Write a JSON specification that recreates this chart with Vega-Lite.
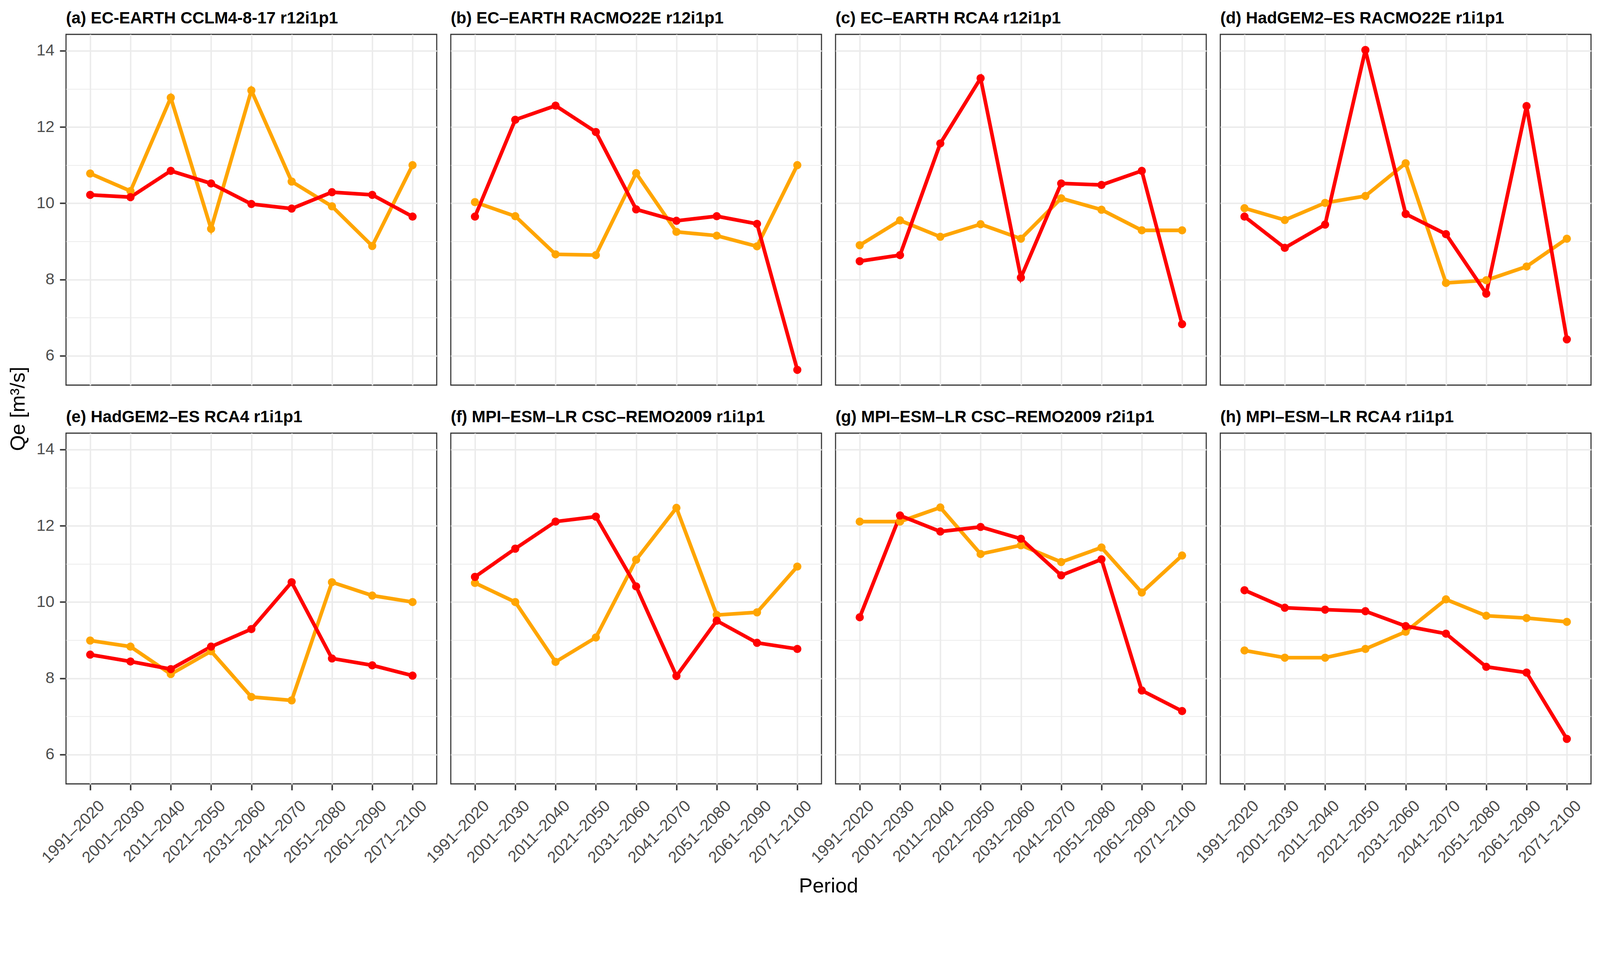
{
  "$schema": "https://vega.github.io/schema/vega-lite/v6.json",
  "background": "white",
  "padding": {"left": 20, "top": 24, "right": 23, "bottom": 5},
  "title": {"text": "Qe [m³/s]", "orient": "left", "anchor": "middle", "fontSize": 52.5, "fontWeight": "normal", "color": "black", "font": "Liberation Sans", "offset": 19, "dx": 113},
  "datasets": {
    "qe": [
      {"model": "(a) EC-EARTH CCLM4-8-17 r12i1p1", "period": "1991–2020", "scenario": "RCP4.5", "qe": 10.78},
      {"model": "(a) EC-EARTH CCLM4-8-17 r12i1p1", "period": "2001–2030", "scenario": "RCP4.5", "qe": 10.32},
      {"model": "(a) EC-EARTH CCLM4-8-17 r12i1p1", "period": "2011–2040", "scenario": "RCP4.5", "qe": 12.77},
      {"model": "(a) EC-EARTH CCLM4-8-17 r12i1p1", "period": "2021–2050", "scenario": "RCP4.5", "qe": 9.33},
      {"model": "(a) EC-EARTH CCLM4-8-17 r12i1p1", "period": "2031–2060", "scenario": "RCP4.5", "qe": 12.96},
      {"model": "(a) EC-EARTH CCLM4-8-17 r12i1p1", "period": "2041–2070", "scenario": "RCP4.5", "qe": 10.57},
      {"model": "(a) EC-EARTH CCLM4-8-17 r12i1p1", "period": "2051–2080", "scenario": "RCP4.5", "qe": 9.92},
      {"model": "(a) EC-EARTH CCLM4-8-17 r12i1p1", "period": "2061–2090", "scenario": "RCP4.5", "qe": 8.88},
      {"model": "(a) EC-EARTH CCLM4-8-17 r12i1p1", "period": "2071–2100", "scenario": "RCP4.5", "qe": 11.0},
      {"model": "(b) EC–EARTH RACMO22E r12i1p1", "period": "1991–2020", "scenario": "RCP4.5", "qe": 10.03},
      {"model": "(b) EC–EARTH RACMO22E r12i1p1", "period": "2001–2030", "scenario": "RCP4.5", "qe": 9.66},
      {"model": "(b) EC–EARTH RACMO22E r12i1p1", "period": "2011–2040", "scenario": "RCP4.5", "qe": 8.66},
      {"model": "(b) EC–EARTH RACMO22E r12i1p1", "period": "2021–2050", "scenario": "RCP4.5", "qe": 8.64},
      {"model": "(b) EC–EARTH RACMO22E r12i1p1", "period": "2031–2060", "scenario": "RCP4.5", "qe": 10.79},
      {"model": "(b) EC–EARTH RACMO22E r12i1p1", "period": "2041–2070", "scenario": "RCP4.5", "qe": 9.25},
      {"model": "(b) EC–EARTH RACMO22E r12i1p1", "period": "2051–2080", "scenario": "RCP4.5", "qe": 9.15},
      {"model": "(b) EC–EARTH RACMO22E r12i1p1", "period": "2061–2090", "scenario": "RCP4.5", "qe": 8.87},
      {"model": "(b) EC–EARTH RACMO22E r12i1p1", "period": "2071–2100", "scenario": "RCP4.5", "qe": 11.0},
      {"model": "(c) EC–EARTH RCA4 r12i1p1", "period": "1991–2020", "scenario": "RCP4.5", "qe": 8.9},
      {"model": "(c) EC–EARTH RCA4 r12i1p1", "period": "2001–2030", "scenario": "RCP4.5", "qe": 9.55},
      {"model": "(c) EC–EARTH RCA4 r12i1p1", "period": "2011–2040", "scenario": "RCP4.5", "qe": 9.12},
      {"model": "(c) EC–EARTH RCA4 r12i1p1", "period": "2021–2050", "scenario": "RCP4.5", "qe": 9.45},
      {"model": "(c) EC–EARTH RCA4 r12i1p1", "period": "2031–2060", "scenario": "RCP4.5", "qe": 9.07},
      {"model": "(c) EC–EARTH RCA4 r12i1p1", "period": "2041–2070", "scenario": "RCP4.5", "qe": 10.13},
      {"model": "(c) EC–EARTH RCA4 r12i1p1", "period": "2051–2080", "scenario": "RCP4.5", "qe": 9.83},
      {"model": "(c) EC–EARTH RCA4 r12i1p1", "period": "2061–2090", "scenario": "RCP4.5", "qe": 9.29},
      {"model": "(c) EC–EARTH RCA4 r12i1p1", "period": "2071–2100", "scenario": "RCP4.5", "qe": 9.29},
      {"model": "(d) HadGEM2–ES RACMO22E r1i1p1", "period": "1991–2020", "scenario": "RCP4.5", "qe": 9.87},
      {"model": "(d) HadGEM2–ES RACMO22E r1i1p1", "period": "2001–2030", "scenario": "RCP4.5", "qe": 9.56},
      {"model": "(d) HadGEM2–ES RACMO22E r1i1p1", "period": "2011–2040", "scenario": "RCP4.5", "qe": 10.01},
      {"model": "(d) HadGEM2–ES RACMO22E r1i1p1", "period": "2021–2050", "scenario": "RCP4.5", "qe": 10.19},
      {"model": "(d) HadGEM2–ES RACMO22E r1i1p1", "period": "2031–2060", "scenario": "RCP4.5", "qe": 11.05},
      {"model": "(d) HadGEM2–ES RACMO22E r1i1p1", "period": "2041–2070", "scenario": "RCP4.5", "qe": 7.91},
      {"model": "(d) HadGEM2–ES RACMO22E r1i1p1", "period": "2051–2080", "scenario": "RCP4.5", "qe": 7.98},
      {"model": "(d) HadGEM2–ES RACMO22E r1i1p1", "period": "2061–2090", "scenario": "RCP4.5", "qe": 8.34},
      {"model": "(d) HadGEM2–ES RACMO22E r1i1p1", "period": "2071–2100", "scenario": "RCP4.5", "qe": 9.07},
      {"model": "(e) HadGEM2–ES RCA4 r1i1p1", "period": "1991–2020", "scenario": "RCP4.5", "qe": 8.99},
      {"model": "(e) HadGEM2–ES RCA4 r1i1p1", "period": "2001–2030", "scenario": "RCP4.5", "qe": 8.83},
      {"model": "(e) HadGEM2–ES RCA4 r1i1p1", "period": "2011–2040", "scenario": "RCP4.5", "qe": 8.11},
      {"model": "(e) HadGEM2–ES RCA4 r1i1p1", "period": "2021–2050", "scenario": "RCP4.5", "qe": 8.71},
      {"model": "(e) HadGEM2–ES RCA4 r1i1p1", "period": "2031–2060", "scenario": "RCP4.5", "qe": 7.51},
      {"model": "(e) HadGEM2–ES RCA4 r1i1p1", "period": "2041–2070", "scenario": "RCP4.5", "qe": 7.42},
      {"model": "(e) HadGEM2–ES RCA4 r1i1p1", "period": "2051–2080", "scenario": "RCP4.5", "qe": 10.52},
      {"model": "(e) HadGEM2–ES RCA4 r1i1p1", "period": "2061–2090", "scenario": "RCP4.5", "qe": 10.17},
      {"model": "(e) HadGEM2–ES RCA4 r1i1p1", "period": "2071–2100", "scenario": "RCP4.5", "qe": 10.0},
      {"model": "(f) MPI–ESM–LR CSC–REMO2009 r1i1p1", "period": "1991–2020", "scenario": "RCP4.5", "qe": 10.5},
      {"model": "(f) MPI–ESM–LR CSC–REMO2009 r1i1p1", "period": "2001–2030", "scenario": "RCP4.5", "qe": 10.0},
      {"model": "(f) MPI–ESM–LR CSC–REMO2009 r1i1p1", "period": "2011–2040", "scenario": "RCP4.5", "qe": 8.43},
      {"model": "(f) MPI–ESM–LR CSC–REMO2009 r1i1p1", "period": "2021–2050", "scenario": "RCP4.5", "qe": 9.07},
      {"model": "(f) MPI–ESM–LR CSC–REMO2009 r1i1p1", "period": "2031–2060", "scenario": "RCP4.5", "qe": 11.11},
      {"model": "(f) MPI–ESM–LR CSC–REMO2009 r1i1p1", "period": "2041–2070", "scenario": "RCP4.5", "qe": 12.47},
      {"model": "(f) MPI–ESM–LR CSC–REMO2009 r1i1p1", "period": "2051–2080", "scenario": "RCP4.5", "qe": 9.66},
      {"model": "(f) MPI–ESM–LR CSC–REMO2009 r1i1p1", "period": "2061–2090", "scenario": "RCP4.5", "qe": 9.73},
      {"model": "(f) MPI–ESM–LR CSC–REMO2009 r1i1p1", "period": "2071–2100", "scenario": "RCP4.5", "qe": 10.93},
      {"model": "(g) MPI–ESM–LR CSC–REMO2009 r2i1p1", "period": "1991–2020", "scenario": "RCP4.5", "qe": 12.11},
      {"model": "(g) MPI–ESM–LR CSC–REMO2009 r2i1p1", "period": "2001–2030", "scenario": "RCP4.5", "qe": 12.11},
      {"model": "(g) MPI–ESM–LR CSC–REMO2009 r2i1p1", "period": "2011–2040", "scenario": "RCP4.5", "qe": 12.48},
      {"model": "(g) MPI–ESM–LR CSC–REMO2009 r2i1p1", "period": "2021–2050", "scenario": "RCP4.5", "qe": 11.26},
      {"model": "(g) MPI–ESM–LR CSC–REMO2009 r2i1p1", "period": "2031–2060", "scenario": "RCP4.5", "qe": 11.49},
      {"model": "(g) MPI–ESM–LR CSC–REMO2009 r2i1p1", "period": "2041–2070", "scenario": "RCP4.5", "qe": 11.05},
      {"model": "(g) MPI–ESM–LR CSC–REMO2009 r2i1p1", "period": "2051–2080", "scenario": "RCP4.5", "qe": 11.43},
      {"model": "(g) MPI–ESM–LR CSC–REMO2009 r2i1p1", "period": "2061–2090", "scenario": "RCP4.5", "qe": 10.25},
      {"model": "(g) MPI–ESM–LR CSC–REMO2009 r2i1p1", "period": "2071–2100", "scenario": "RCP4.5", "qe": 11.22},
      {"model": "(h) MPI–ESM–LR RCA4 r1i1p1", "period": "1991–2020", "scenario": "RCP4.5", "qe": 8.73},
      {"model": "(h) MPI–ESM–LR RCA4 r1i1p1", "period": "2001–2030", "scenario": "RCP4.5", "qe": 8.54},
      {"model": "(h) MPI–ESM–LR RCA4 r1i1p1", "period": "2011–2040", "scenario": "RCP4.5", "qe": 8.54},
      {"model": "(h) MPI–ESM–LR RCA4 r1i1p1", "period": "2021–2050", "scenario": "RCP4.5", "qe": 8.77},
      {"model": "(h) MPI–ESM–LR RCA4 r1i1p1", "period": "2031–2060", "scenario": "RCP4.5", "qe": 9.22},
      {"model": "(h) MPI–ESM–LR RCA4 r1i1p1", "period": "2041–2070", "scenario": "RCP4.5", "qe": 10.07},
      {"model": "(h) MPI–ESM–LR RCA4 r1i1p1", "period": "2051–2080", "scenario": "RCP4.5", "qe": 9.64},
      {"model": "(h) MPI–ESM–LR RCA4 r1i1p1", "period": "2061–2090", "scenario": "RCP4.5", "qe": 9.58},
      {"model": "(h) MPI–ESM–LR RCA4 r1i1p1", "period": "2071–2100", "scenario": "RCP4.5", "qe": 9.48},
      {"model": "(a) EC-EARTH CCLM4-8-17 r12i1p1", "period": "1991–2020", "scenario": "RCP8.5", "qe": 10.22},
      {"model": "(a) EC-EARTH CCLM4-8-17 r12i1p1", "period": "2001–2030", "scenario": "RCP8.5", "qe": 10.16},
      {"model": "(a) EC-EARTH CCLM4-8-17 r12i1p1", "period": "2011–2040", "scenario": "RCP8.5", "qe": 10.85},
      {"model": "(a) EC-EARTH CCLM4-8-17 r12i1p1", "period": "2021–2050", "scenario": "RCP8.5", "qe": 10.52},
      {"model": "(a) EC-EARTH CCLM4-8-17 r12i1p1", "period": "2031–2060", "scenario": "RCP8.5", "qe": 9.98},
      {"model": "(a) EC-EARTH CCLM4-8-17 r12i1p1", "period": "2041–2070", "scenario": "RCP8.5", "qe": 9.86},
      {"model": "(a) EC-EARTH CCLM4-8-17 r12i1p1", "period": "2051–2080", "scenario": "RCP8.5", "qe": 10.29},
      {"model": "(a) EC-EARTH CCLM4-8-17 r12i1p1", "period": "2061–2090", "scenario": "RCP8.5", "qe": 10.22},
      {"model": "(a) EC-EARTH CCLM4-8-17 r12i1p1", "period": "2071–2100", "scenario": "RCP8.5", "qe": 9.65},
      {"model": "(b) EC–EARTH RACMO22E r12i1p1", "period": "1991–2020", "scenario": "RCP8.5", "qe": 9.65},
      {"model": "(b) EC–EARTH RACMO22E r12i1p1", "period": "2001–2030", "scenario": "RCP8.5", "qe": 12.19},
      {"model": "(b) EC–EARTH RACMO22E r12i1p1", "period": "2011–2040", "scenario": "RCP8.5", "qe": 12.56},
      {"model": "(b) EC–EARTH RACMO22E r12i1p1", "period": "2021–2050", "scenario": "RCP8.5", "qe": 11.87},
      {"model": "(b) EC–EARTH RACMO22E r12i1p1", "period": "2031–2060", "scenario": "RCP8.5", "qe": 9.84},
      {"model": "(b) EC–EARTH RACMO22E r12i1p1", "period": "2041–2070", "scenario": "RCP8.5", "qe": 9.54},
      {"model": "(b) EC–EARTH RACMO22E r12i1p1", "period": "2051–2080", "scenario": "RCP8.5", "qe": 9.66},
      {"model": "(b) EC–EARTH RACMO22E r12i1p1", "period": "2061–2090", "scenario": "RCP8.5", "qe": 9.46},
      {"model": "(b) EC–EARTH RACMO22E r12i1p1", "period": "2071–2100", "scenario": "RCP8.5", "qe": 5.63},
      {"model": "(c) EC–EARTH RCA4 r12i1p1", "period": "1991–2020", "scenario": "RCP8.5", "qe": 8.48},
      {"model": "(c) EC–EARTH RCA4 r12i1p1", "period": "2001–2030", "scenario": "RCP8.5", "qe": 8.64},
      {"model": "(c) EC–EARTH RCA4 r12i1p1", "period": "2011–2040", "scenario": "RCP8.5", "qe": 11.57},
      {"model": "(c) EC–EARTH RCA4 r12i1p1", "period": "2021–2050", "scenario": "RCP8.5", "qe": 13.28},
      {"model": "(c) EC–EARTH RCA4 r12i1p1", "period": "2031–2060", "scenario": "RCP8.5", "qe": 8.05},
      {"model": "(c) EC–EARTH RCA4 r12i1p1", "period": "2041–2070", "scenario": "RCP8.5", "qe": 10.52},
      {"model": "(c) EC–EARTH RCA4 r12i1p1", "period": "2051–2080", "scenario": "RCP8.5", "qe": 10.48},
      {"model": "(c) EC–EARTH RCA4 r12i1p1", "period": "2061–2090", "scenario": "RCP8.5", "qe": 10.85},
      {"model": "(c) EC–EARTH RCA4 r12i1p1", "period": "2071–2100", "scenario": "RCP8.5", "qe": 6.83},
      {"model": "(d) HadGEM2–ES RACMO22E r1i1p1", "period": "1991–2020", "scenario": "RCP8.5", "qe": 9.65},
      {"model": "(d) HadGEM2–ES RACMO22E r1i1p1", "period": "2001–2030", "scenario": "RCP8.5", "qe": 8.83},
      {"model": "(d) HadGEM2–ES RACMO22E r1i1p1", "period": "2011–2040", "scenario": "RCP8.5", "qe": 9.44},
      {"model": "(d) HadGEM2–ES RACMO22E r1i1p1", "period": "2021–2050", "scenario": "RCP8.5", "qe": 14.02},
      {"model": "(d) HadGEM2–ES RACMO22E r1i1p1", "period": "2031–2060", "scenario": "RCP8.5", "qe": 9.72},
      {"model": "(d) HadGEM2–ES RACMO22E r1i1p1", "period": "2041–2070", "scenario": "RCP8.5", "qe": 9.19},
      {"model": "(d) HadGEM2–ES RACMO22E r1i1p1", "period": "2051–2080", "scenario": "RCP8.5", "qe": 7.63},
      {"model": "(d) HadGEM2–ES RACMO22E r1i1p1", "period": "2061–2090", "scenario": "RCP8.5", "qe": 12.55},
      {"model": "(d) HadGEM2–ES RACMO22E r1i1p1", "period": "2071–2100", "scenario": "RCP8.5", "qe": 6.43},
      {"model": "(e) HadGEM2–ES RCA4 r1i1p1", "period": "1991–2020", "scenario": "RCP8.5", "qe": 8.62},
      {"model": "(e) HadGEM2–ES RCA4 r1i1p1", "period": "2001–2030", "scenario": "RCP8.5", "qe": 8.44},
      {"model": "(e) HadGEM2–ES RCA4 r1i1p1", "period": "2011–2040", "scenario": "RCP8.5", "qe": 8.24},
      {"model": "(e) HadGEM2–ES RCA4 r1i1p1", "period": "2021–2050", "scenario": "RCP8.5", "qe": 8.83},
      {"model": "(e) HadGEM2–ES RCA4 r1i1p1", "period": "2031–2060", "scenario": "RCP8.5", "qe": 9.29},
      {"model": "(e) HadGEM2–ES RCA4 r1i1p1", "period": "2041–2070", "scenario": "RCP8.5", "qe": 10.52},
      {"model": "(e) HadGEM2–ES RCA4 r1i1p1", "period": "2051–2080", "scenario": "RCP8.5", "qe": 8.52},
      {"model": "(e) HadGEM2–ES RCA4 r1i1p1", "period": "2061–2090", "scenario": "RCP8.5", "qe": 8.34},
      {"model": "(e) HadGEM2–ES RCA4 r1i1p1", "period": "2071–2100", "scenario": "RCP8.5", "qe": 8.07},
      {"model": "(f) MPI–ESM–LR CSC–REMO2009 r1i1p1", "period": "1991–2020", "scenario": "RCP8.5", "qe": 10.66},
      {"model": "(f) MPI–ESM–LR CSC–REMO2009 r1i1p1", "period": "2001–2030", "scenario": "RCP8.5", "qe": 11.4},
      {"model": "(f) MPI–ESM–LR CSC–REMO2009 r1i1p1", "period": "2011–2040", "scenario": "RCP8.5", "qe": 12.11},
      {"model": "(f) MPI–ESM–LR CSC–REMO2009 r1i1p1", "period": "2021–2050", "scenario": "RCP8.5", "qe": 12.24},
      {"model": "(f) MPI–ESM–LR CSC–REMO2009 r1i1p1", "period": "2031–2060", "scenario": "RCP8.5", "qe": 10.41},
      {"model": "(f) MPI–ESM–LR CSC–REMO2009 r1i1p1", "period": "2041–2070", "scenario": "RCP8.5", "qe": 8.06},
      {"model": "(f) MPI–ESM–LR CSC–REMO2009 r1i1p1", "period": "2051–2080", "scenario": "RCP8.5", "qe": 9.51},
      {"model": "(f) MPI–ESM–LR CSC–REMO2009 r1i1p1", "period": "2061–2090", "scenario": "RCP8.5", "qe": 8.93},
      {"model": "(f) MPI–ESM–LR CSC–REMO2009 r1i1p1", "period": "2071–2100", "scenario": "RCP8.5", "qe": 8.77},
      {"model": "(g) MPI–ESM–LR CSC–REMO2009 r2i1p1", "period": "1991–2020", "scenario": "RCP8.5", "qe": 9.6},
      {"model": "(g) MPI–ESM–LR CSC–REMO2009 r2i1p1", "period": "2001–2030", "scenario": "RCP8.5", "qe": 12.27},
      {"model": "(g) MPI–ESM–LR CSC–REMO2009 r2i1p1", "period": "2011–2040", "scenario": "RCP8.5", "qe": 11.85},
      {"model": "(g) MPI–ESM–LR CSC–REMO2009 r2i1p1", "period": "2021–2050", "scenario": "RCP8.5", "qe": 11.97},
      {"model": "(g) MPI–ESM–LR CSC–REMO2009 r2i1p1", "period": "2031–2060", "scenario": "RCP8.5", "qe": 11.66},
      {"model": "(g) MPI–ESM–LR CSC–REMO2009 r2i1p1", "period": "2041–2070", "scenario": "RCP8.5", "qe": 10.7},
      {"model": "(g) MPI–ESM–LR CSC–REMO2009 r2i1p1", "period": "2051–2080", "scenario": "RCP8.5", "qe": 11.12},
      {"model": "(g) MPI–ESM–LR CSC–REMO2009 r2i1p1", "period": "2061–2090", "scenario": "RCP8.5", "qe": 7.68},
      {"model": "(g) MPI–ESM–LR CSC–REMO2009 r2i1p1", "period": "2071–2100", "scenario": "RCP8.5", "qe": 7.14},
      {"model": "(h) MPI–ESM–LR RCA4 r1i1p1", "period": "1991–2020", "scenario": "RCP8.5", "qe": 10.31},
      {"model": "(h) MPI–ESM–LR RCA4 r1i1p1", "period": "2001–2030", "scenario": "RCP8.5", "qe": 9.85},
      {"model": "(h) MPI–ESM–LR RCA4 r1i1p1", "period": "2011–2040", "scenario": "RCP8.5", "qe": 9.8},
      {"model": "(h) MPI–ESM–LR RCA4 r1i1p1", "period": "2021–2050", "scenario": "RCP8.5", "qe": 9.76},
      {"model": "(h) MPI–ESM–LR RCA4 r1i1p1", "period": "2031–2060", "scenario": "RCP8.5", "qe": 9.37},
      {"model": "(h) MPI–ESM–LR RCA4 r1i1p1", "period": "2041–2070", "scenario": "RCP8.5", "qe": 9.17},
      {"model": "(h) MPI–ESM–LR RCA4 r1i1p1", "period": "2051–2080", "scenario": "RCP8.5", "qe": 8.3},
      {"model": "(h) MPI–ESM–LR RCA4 r1i1p1", "period": "2061–2090", "scenario": "RCP8.5", "qe": 8.15},
      {"model": "(h) MPI–ESM–LR RCA4 r1i1p1", "period": "2071–2100", "scenario": "RCP8.5", "qe": 6.41}
    ]
  },
  "data": {"name": "qe"},
  "facet": {
    "field": "model",
    "type": "nominal",
    "header": {
      "title": "Period",
      "titleOrient": "bottom",
      "titleFontSize": 52.5,
      "titleFontWeight": "normal",
      "titleColor": "black",
      "titleFont": "Liberation Sans",
      "titlePadding": 26,
      "labelFontSize": 42.2,
      "labelFontWeight": "bold",
      "labelColor": "black",
      "labelFont": "Liberation Sans",
      "labelAnchor": "start",
      "labelAlign": "left",
      "labelPadding": 19,
      "labelLimit": 0
    }
  },
  "columns": 4,
  "spacing": {"row": 57, "column": 32},
  "spec": {
    "width": 949,
    "height": 898,
    "encoding": {
      "x": {
        "field": "period",
        "type": "ordinal",
        "scale": {"type": "point", "padding": 0.6},
        "axis": {
          "title": null,
          "grid": true,
          "gridColor": "#EBEBEB",
          "gridWidth": 3.75,
          "domain": false,
          "tickSize": 14,
          "tickWidth": 3.75,
          "tickColor": "#333333",
          "labelAngle": -45,
          "labelAlign": "right",
          "labelBaseline": "top",
          "labelPadding": 19,
          "labelOffset": 15,
          "labelLimit": 0,
          "labelFontSize": 41.3,
          "labelColor": "#4D4D4D",
          "labelFont": "Liberation Sans"
        }
      },
      "y": {
        "field": "qe",
        "type": "quantitative",
        "scale": {"domain": [5.23, 14.43], "nice": false, "zero": false},
        "axis": {
          "title": null,
          "values": [6, 7, 8, 9, 10, 11, 12, 13, 14],
          "grid": true,
          "gridColor": "#EBEBEB",
          "gridWidth": {"condition": {"test": "datum.value % 2 === 1", "value": 1.9}, "value": 3.75},
          "tickOpacity": {"condition": {"test": "datum.value % 2 === 1", "value": 0}, "value": 1},
          "labelExpr": "datum.value % 2 === 0 ? datum.label : ''",
          "labelOverlap": false,
          "labelFlush": false,
          "domain": false,
          "tickSize": 14,
          "tickWidth": 3.75,
          "tickColor": "#333333",
          "labelPadding": 14,
          "labelFontSize": 41.3,
          "labelColor": "#4D4D4D",
          "labelFont": "Liberation Sans"
        }
      },
      "color": {
        "field": "scenario",
        "type": "nominal",
        "scale": {"domain": ["RCP4.5", "RCP8.5"], "range": ["#FFA500", "#FF0000"]},
        "legend": null
      }
    },
    "layer": [
      {"mark": {"type": "line", "strokeWidth": 9.4}},
      {"mark": {"type": "point", "filled": true, "size": 440, "opacity": 1}}
    ]
  },
  "config": {
    "view": {"stroke": "#333333", "strokeWidth": 2.8},
    "font": "Liberation Sans"
  }
}
